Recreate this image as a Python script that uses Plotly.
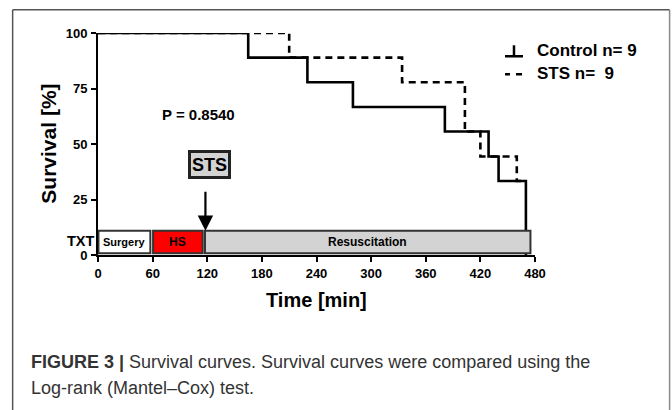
import plotly.graph_objects as go

# ---- data ----
control_times = [0, 165, 230, 280, 381, 429, 440, 470]
control_surv = [100, 88.9, 77.8, 66.7, 55.6, 44.4, 33.3, 0]
sts_times = [0, 210, 334, 403, 420, 460, 470]
sts_surv = [100, 88.9, 77.8, 55.6, 44.4, 33.3, 33.3]

phase_names = ["Surgery", "HS", "Resuscitation"]
phase_start = [0, 60, 117]
phase_end = [57.5, 115, 475]
phase_colors = ["#ffffff", "#ff0000", "#d3d3d3"]
phase_font = [11, 12, 12]

x_ticks = [0, 60, 120, 180, 240, 300, 360, 420, 480]
y_ticks = [0, 25, 50, 75, 100]

sts_time = 118
p_value_text = "P = 0.8540"
legend_labels = ["Control n= 9", "STS n=  9"]

W, H = 672, 410
L, R, T, B = 98.3, 535.0, 32.7, 255.0
PW, PH = R - L, B - T


def px(xp):
    return (xp - L) / PW


def py(yp):
    return (B - yp) / PH


FONT = "Liberation Sans, Arial, sans-serif"


def txt(size, color="black", bold=True):
    d = dict(family=FONT, size=size, color=color)
    if bold:
        d["weight"] = "bold"
    return d


fig = go.Figure()
fig.add_trace(go.Scatter(x=control_times, y=control_surv, mode="lines",
                         line=dict(color="black", width=2.6, shape="hv"),
                         cliponaxis=False, showlegend=False))
fig.add_trace(go.Scatter(x=sts_times, y=sts_surv, mode="lines",
                         line=dict(color="black", width=2.6, shape="hv", dash="7px,5px"),
                         cliponaxis=False, showlegend=False))

shapes = []
annotations = []

# treatment phase boxes
for name, s, e, c, fs in zip(phase_names, phase_start, phase_end, phase_colors, phase_font):
    shapes.append(dict(type="rect", xref="x", yref="y", x0=s + 0.5, x1=e, y0=0.8, y1=10.9,
                       fillcolor=c, line=dict(color="#333333", width=2), layer="above"))
    annotations.append(dict(x=(s + e) / 2, y=5.9, xref="x", yref="y", text=name,
                            xanchor="center", yanchor="middle",
                            showarrow=False, font=txt(fs)))

# STS arrow
annotations.append(dict(x=sts_time, y=10.9, xref="x", yref="y", ax=sts_time, ay=29.2,
                        axref="x", ayref="y", text="", showarrow=True, arrowhead=2,
                        arrowsize=1.4, arrowwidth=2.2, arrowcolor="black"))
# STS box
annotations.append(dict(x=122, y=40.6, xref="x", yref="y", text="STS", showarrow=False,
                        xanchor="center", yanchor="middle", font=txt(18),
                        bgcolor="#d3d3d3", bordercolor="#222222", borderwidth=3,
                        width=37, height=23, borderpad=0))
# P value
annotations.append(dict(x=110, y=63.4, xref="x", yref="y", text=p_value_text, showarrow=False,
                        xanchor="center", yanchor="middle", font=txt(15)))
# TXT label
annotations.append(dict(x=0, y=6.2, xref="paper", yref="y", text="TXT", showarrow=False,
                        xanchor="right", yanchor="middle", xshift=-1, font=txt(14.5)))

# legend (manual)
annotations.append(dict(x=px(535), y=py(50.5), xref="paper", yref="paper", text=legend_labels[0],
                        showarrow=False, xanchor="left", yanchor="middle", font=txt(17)))
annotations.append(dict(x=px(535), y=py(73.5), xref="paper", yref="paper", text=legend_labels[1],
                        showarrow=False, xanchor="left", yanchor="middle", font=txt(17)))
shapes.append(dict(type="line", xref="paper", yref="paper", x0=px(505), x1=px(523),
                   y0=py(56), y1=py(56), line=dict(color="black", width=2.5)))
shapes.append(dict(type="line", xref="paper", yref="paper", x0=px(514), x1=px(514),
                   y0=py(56), y1=py(45), line=dict(color="black", width=2.5)))
shapes.append(dict(type="line", xref="paper", yref="paper", x0=px(505), x1=px(510),
                   y0=py(74), y1=py(74), line=dict(color="black", width=2.5)))
shapes.append(dict(type="line", xref="paper", yref="paper", x0=px(516), x1=px(522),
                   y0=py(74), y1=py(74), line=dict(color="black", width=2.5)))

# axis titles
annotations.append(dict(x=px(48), y=0.5, xref="paper", yref="paper", text="Survival [%]",
                        showarrow=False, textangle=-90, xanchor="center", yanchor="middle",
                        font=txt(21)))
annotations.append(dict(x=px(317), y=py(300.5), xref="paper", yref="paper", text="Time [min]",
                        showarrow=False, xanchor="center", yanchor="middle", font=txt(20)))

# caption
annotations.append(dict(x=px(29), y=py(362), xref="paper", yref="paper", xanchor="left",
                        yanchor="middle",
                        text="<b>FIGURE 3 |</b> Survival curves. Survival curves were compared using the",
                        showarrow=False, font=txt(18, "#333333", bold=False)))
annotations.append(dict(x=px(29), y=py(388), xref="paper", yref="paper", xanchor="left",
                        yanchor="middle", text="Log-rank (Mantel\u2013Cox) test.",
                        showarrow=False, font=txt(18, "#333333", bold=False)))

# frame
frame_line = dict(color="#555555", width=1.5)
shapes.append(dict(type="line", xref="paper", yref="paper", x0=px(13), x1=px(13),
                   y0=py(9.5), y1=py(415), line=frame_line, layer="below"))
shapes.append(dict(type="line", xref="paper", yref="paper", x0=px(13), x1=px(669.5),
                   y0=py(9.5), y1=py(9.5), line=frame_line, layer="below"))
shapes.append(dict(type="line", xref="paper", yref="paper", x0=px(669.5), x1=px(669.5),
                   y0=py(9.5), y1=py(415), line=dict(color="#888888", width=1.5), layer="below"))

fig.update_layout(
    width=W, height=H,
    margin=dict(l=L, r=W - R, t=T, b=H - B, autoexpand=False),
    paper_bgcolor="white", plot_bgcolor="white",
    shapes=shapes, annotations=annotations, showlegend=False,
    xaxis=dict(range=[0, 480], tickvals=x_ticks, showgrid=False, zeroline=False,
               showline=True, linecolor="black", linewidth=2, ticks="outside",
               ticklen=5, tickwidth=2, tickcolor="black",
               tickfont=txt(13)),
    yaxis=dict(range=[0, 100], tickvals=y_ticks, showgrid=False, zeroline=False,
               showline=True, linecolor="black", linewidth=2, ticks="outside",
               ticklen=5, tickwidth=2, tickcolor="black", ticklabelstandoff=1,
               tickfont=txt(13)),
)

fig.write_html("out.html", config={"displayModeBar": False},
               post_script="document.body.style.margin='0';document.body.style.overflow='hidden';")
